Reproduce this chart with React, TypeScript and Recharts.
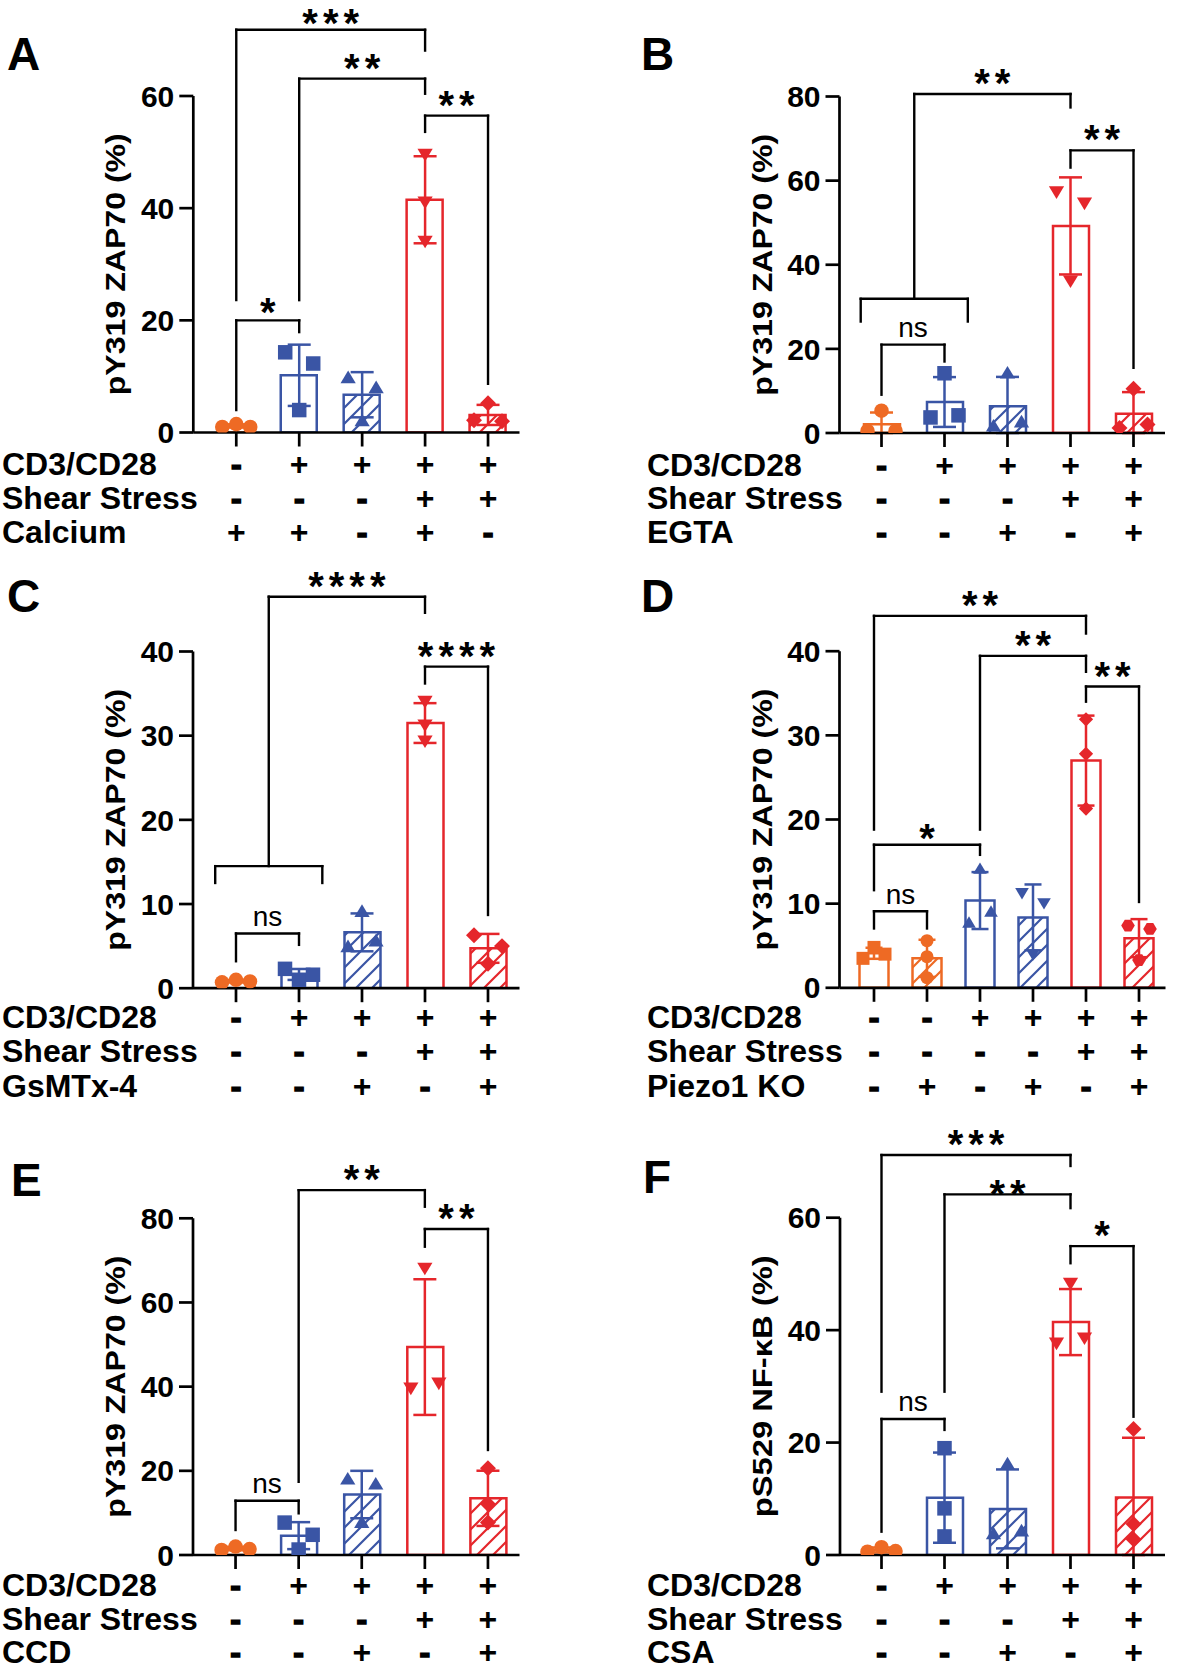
import React from 'react';
import { ComposedChart, Bar, Cell, Scatter, ErrorBar, XAxis, YAxis, ReferenceLine, ReferenceDot } from 'recharts';

const FONT = "'Liberation Sans', Arial, Helvetica, sans-serif";
const COLORS: Record<string, string> = { orange: '#EE6A24', blue: '#3A55A5', red: '#E5262B' };

type Br = { x1: number; x2: number; y: number; d1: number; d2: number; t: string; lift?: number };

// ---------------- Panel A ----------------
const catsA = ['A1', 'A2', 'A3', 'A4', 'A5'];
const pointsA = [[1.0, 1.5, 1.0], [14.3, 12.3, 4.0], [9.9, 8.1, 2.2], [49.5, 41.0, 34.0], [2.2, 5.2, 2.0]];
const colorsA = ['orange', 'blue', 'blue', 'red', 'red'];
const hatchA = [false, false, true, false, true];
const shapesA = ['circle', 'square', 'triUp', 'triDown', 'diamond'];
const yTicksA = [0, 20, 40, 60];
const rowLabelsA = ['CD3/CD28', 'Shear Stress', 'Calcium'];
const signsA = [['-', '+', '+', '+', '+'], ['-', '-', '-', '+', '+'], ['+', '+', '-', '+', '-']];
const bracketsA: Br[] = [
  { x1: 0, x2: 3, y: 71.8, d1: 23.6, d2: 68.1, t: '***', lift: 8 },
  { x1: 1, x2: 3, y: 63.1, d1: 23.6, d2: 60.4, t: '**' },
  { x1: 3, x2: 4, y: 56.5, d1: 53.6, d2: 8.7, t: '**' },
  { x1: 0, x2: 1, y: 20.0, d1: 4.0, d2: 17.9, t: '*', lift: 10 },
];

// ---------------- Panel B ----------------
const catsB = ['B1', 'B2', 'B3', 'B4', 'B5'];
const pointsB = [[0.5, 5.3, 0.5], [3.7, 14.2, 4.2], [1.8, 14.4, 2.8], [57.2, 54.5, 36.0], [1.2, 10.5, 2.0]];
const colorsB = ['orange', 'blue', 'blue', 'red', 'red'];
const hatchB = [false, false, true, false, true];
const shapesB = ['circle', 'square', 'triUp', 'triDown', 'diamond'];
const yTicksB = [0, 20, 40, 60, 80];
const rowLabelsB = ['CD3/CD28', 'Shear Stress', 'EGTA'];
const signsB = [['-', '+', '+', '+', '+'], ['-', '-', '-', '+', '+'], ['-', '-', '+', '-', '+']];
const bracketsB: Br[] = [
  { x1: 0.52, x2: 3, y: 80.6, d1: 31.9, d2: 77.4, t: '**' },
  { x1: -0.33, x2: 1.37, y: 31.9, d1: 26.5, d2: 26.5, t: '' },
  { x1: 3, x2: 4, y: 67.2, d1: 63.1, d2: 15.5, t: '**' },
  { x1: 0, x2: 1, y: 21.0, d1: 9.1, d2: 17.0, t: 'ns' },
];

// ---------------- Panel C ----------------
const catsC = ['C1', 'C2', 'C3', 'C4', 'C5'];
const pointsC = [[0.7, 1.0, 0.8], [2.3, 1.0, 1.6], [5.0, 9.2, 5.7], [34.0, 31.2, 29.3], [6.3, 5.0, 2.9]];
const colorsC = ['orange', 'blue', 'blue', 'red', 'red'];
const hatchC = [false, false, true, false, true];
const shapesC = ['circle', 'square', 'triUp', 'triDown', 'diamond'];
const yTicksC = [0, 10, 20, 30, 40];
const rowLabelsC = ['CD3/CD28', 'Shear Stress', 'GsMTx-4'];
const signsC = [['-', '+', '+', '+', '+'], ['-', '-', '-', '+', '+'], ['-', '-', '+', '-', '+']];
const bracketsC: Br[] = [
  { x1: 0.52, x2: 3, y: 46.5, d1: 14.5, d2: 44.6, t: '****' },
  { x1: -0.33, x2: 1.37, y: 14.5, d1: 12.5, d2: 12.5, t: '' },
  { x1: 3, x2: 4, y: 38.2, d1: 36.2, d2: 8.7, t: '****' },
  { x1: 0, x2: 1, y: 6.5, d1: 3.2, d2: 5.15, t: 'ns' },
];

// ---------------- Panel D ----------------
const catsD = ['D1', 'D2', 'D3', 'D4', 'D5', 'D6'];
const pointsD = [[3.5, 4.8, 4.0], [5.6, 3.7, 1.2], [7.8, 14.2, 9.1], [11.2, 10.0, 3.9], [31.9, 27.8, 21.3], [7.4, 7.0, 3.3]];
const colorsD = ['orange', 'orange', 'blue', 'blue', 'red', 'red'];
const hatchD = [false, true, false, true, false, true];
const shapesD = ['square', 'circle', 'triUp', 'triDown', 'diamond', 'hexagon'];
const yTicksD = [0, 10, 20, 30, 40];
const rowLabelsD = ['CD3/CD28', 'Shear Stress', 'Piezo1 KO'];
const signsD = [['-', '-', '+', '+', '+', '+'], ['-', '-', '-', '-', '+', '+'], ['-', '+', '-', '+', '-', '+']];
const bracketsD: Br[] = [
  { x1: 0, x2: 4, y: 44.2, d1: 18.8, d2: 42.1, t: '**' },
  { x1: 2, x2: 4, y: 39.45, d1: 18.8, d2: 37.55, t: '**' },
  { x1: 4, x2: 5, y: 35.8, d1: 34.0, d2: 10.2, t: '**' },
  { x1: 0, x2: 2, y: 17.0, d1: 11.6, d2: 15.8, t: '*', lift: 8 },
  { x1: 0, x2: 1, y: 9.1, d1: 7.05, d2: 7.05, t: 'ns' },
];

// ---------------- Panel E ----------------
const catsE = ['E1', 'E2', 'E3', 'E4', 'E5'];
const pointsE = [[1.2, 2.0, 1.4], [7.7, 4.8, 1.3], [18.2, 17.0, 7.9], [39.5, 68.0, 40.7], [20.6, 12.1, 7.7]];
const colorsE = ['orange', 'blue', 'blue', 'red', 'red'];
const hatchE = [false, false, true, false, true];
const shapesE = ['circle', 'square', 'triUp', 'triDown', 'diamond'];
const yTicksE = [0, 20, 40, 60, 80];
const rowLabelsE = ['CD3/CD28', 'Shear Stress', 'CCD'];
const signsE = [['-', '+', '+', '+', '+'], ['-', '-', '-', '+', '+'], ['-', '-', '+', '-', '+']];
const bracketsE: Br[] = [
  { x1: 1, x2: 3, y: 86.7, d1: 17.4, d2: 82.75, t: '**' },
  { x1: 3, x2: 4, y: 77.45, d1: 73.25, d2: 24.95, t: '**' },
  { x1: 0, x2: 1, y: 12.9, d1: 5.94, d2: 9.9, t: 'ns' },
];

// ---------------- Panel F ----------------
const catsF = ['F1', 'F2', 'F3', 'F4', 'F5'];
const pointsF = [[0.6, 1.4, 0.7], [19.0, 8.3, 3.3], [3.9, 16.3, 4.4], [37.6, 48.2, 38.5], [22.4, 5.5, 2.8]];
const colorsF = ['orange', 'blue', 'blue', 'red', 'red'];
const hatchF = [false, false, true, false, true];
const shapesF = ['circle', 'square', 'triUp', 'triDown', 'diamond'];
const yTicksF = [0, 20, 40, 60];
const rowLabelsF = ['CD3/CD28', 'Shear Stress', 'CSA'];
const signsF = [['-', '+', '+', '+', '+'], ['-', '-', '-', '+', '+'], ['-', '-', '+', '-', '+']];
const bracketsF: Br[] = [
  { x1: 0, x2: 3, y: 71.15, d1: 29.05, d2: 69.2, t: '***' },
  { x1: 1, x2: 3, y: 64.15, d1: 29.05, d2: 61.7, t: '**', lift: 1.5 },
  { x1: 3, x2: 4, y: 54.95, d1: 51.9, d2: 24.6, t: '*' },
  { x1: 0, x2: 1, y: 24.2, d1: 4.15, d2: 22.25, t: 'ns' },
];

// ---------------- helpers ----------------
const mean = (a: number[]) => a.reduce((s, v) => s + v, 0) / a.length;
const sd = (a: number[]) => {
  const m = mean(a);
  return Math.sqrt(a.reduce((s, v) => s + (v - m) * (v - m), 0) / (a.length - 1));
};

function jitterSlots(vals: number[], pxPerUnit: number, thr = 13): number[] {
  const idx = vals.map((_, i) => i).sort((a, b) => vals[a] - vals[b]);
  const clusters: number[][] = [];
  let cur: number[] = [];
  idx.forEach((i, k) => {
    if (k > 0 && (vals[i] - vals[idx[k - 1]]) * pxPerUnit >= thr) {
      clusters.push(cur);
      cur = [];
    }
    cur.push(i);
  });
  clusters.push(cur);
  const slots = new Array(vals.length).fill(0);
  clusters.forEach((c) => {
    const members = [...c].sort((a, b) => a - b);
    const k = members.length;
    const pattern = k === 1 ? [0] : k === 2 ? [-1, 1] : members.map((_, j) => j - (k - 1) / 2);
    members.forEach((m, j) => (slots[m] = pattern[j]));
  });
  return slots;
}

function Marker(props: any) {
  const { cx, cy, payload } = props;
  if (cx == null || cy == null || !payload) return <g />;
  const x = cx + payload.slot * payload.jit;
  const s = payload.mk;
  const h = s / 2;
  const c = COLORS[payload.color];
  switch (payload.shape) {
    case 'circle':
      return <circle cx={x} cy={cy} r={h} fill={c} />;
    case 'square':
      return <rect x={x - h} y={cy - h} width={s} height={s} fill={c} />;
    case 'triUp':
      return <polygon points={`${x},${cy - h * 0.9} ${x + h * 1.05},${cy + h * 0.85} ${x - h * 1.05},${cy + h * 0.85}`} fill={c} />;
    case 'triDown':
      return <polygon points={`${x},${cy + h * 0.9} ${x + h * 1.05},${cy - h * 0.85} ${x - h * 1.05},${cy - h * 0.85}`} fill={c} />;
    case 'diamond':
      return <polygon points={`${x},${cy - h * 1.1} ${x + h * 1.1},${cy} ${x},${cy + h * 1.1} ${x - h * 1.1},${cy}`} fill={c} />;
    case 'hexagon':
      return (
        <polygon
          points={`${x - h * 1.05},${cy} ${x - h * 0.5},${cy - h * 0.9} ${x + h * 0.5},${cy - h * 0.9} ${x + h * 1.05},${cy} ${x + h * 0.5},${cy + h * 0.9} ${x - h * 0.5},${cy + h * 0.9}`}
          fill={c}
        />
      );
    default:
      return <circle cx={x} cy={cy} r={h} fill={c} />;
  }
}

type Geom = {
  divLeft: number; divTop: number; divW: number; divH: number;
  plotLeft: number; plotTop: number; plotBottom: number; plotRight: number;
  padL: number; barSize: number; cap: number; jit: number; mk: number;
  tableOffs: number[]; rowX: number; letterX: number; letterY: number;
};

type Cfg = {
  letter: string; cats: string[]; points: number[][]; colors: string[]; hatch: boolean[]; shapes: string[];
  yMax: number; yTicks: number[]; rowLabels: string[]; signs: string[][]; brackets: Br[]; yLabel: string; geom: Geom;
};

const LEFT = { divLeft: 0, divW: 600, plotRight: 519.5, rowX: 2 };
const RIGHT = { divLeft: 600, divW: 580, rowX: 647 };

const panels: Cfg[] = [
  {
    letter: 'A', cats: catsA, points: pointsA, colors: colorsA, hatch: hatchA, shapes: shapesA, yMax: 60, yTicks: yTicksA,
    rowLabels: rowLabelsA, signs: signsA, brackets: bracketsA, yLabel: 'pY319 ZAP70 (%)',
    geom: { ...LEFT, divTop: 0, divH: 560, plotLeft: 193.3, plotTop: 96, plotBottom: 432.5, padL: 11.5, barSize: 36, cap: 11.5, jit: 14, mk: 14.5, tableOffs: [42.5, 76, 110], letterX: 7, letterY: 70 },
  },
  {
    letter: 'B', cats: catsB, points: pointsB, colors: colorsB, hatch: hatchB, shapes: shapesB, yMax: 80, yTicks: yTicksB,
    rowLabels: rowLabelsB, signs: signsB, brackets: bracketsB, yLabel: 'pY319 ZAP70 (%)',
    geom: { ...RIGHT, divTop: 0, divH: 560, plotLeft: 839.5, plotTop: 96.5, plotBottom: 433, plotRight: 1165, padL: 10.5, barSize: 36, cap: 11.5, jit: 14, mk: 14.5, tableOffs: [42.5, 76, 110], letterX: 641, letterY: 70 },
  },
  {
    letter: 'C', cats: catsC, points: pointsC, colors: colorsC, hatch: hatchC, shapes: shapesC, yMax: 40, yTicks: yTicksC,
    rowLabels: rowLabelsC, signs: signsC, brackets: bracketsC, yLabel: 'pY319 ZAP70 (%)',
    geom: { ...LEFT, divTop: 560, divH: 560, plotLeft: 193, plotTop: 651.5, plotBottom: 988.2, padL: 11.5, barSize: 36, cap: 11.5, jit: 14, mk: 14.5, tableOffs: [40, 74, 109], letterX: 7, letterY: 612 },
  },
  {
    letter: 'D', cats: catsD, points: pointsD, colors: colorsD, hatch: hatchD, shapes: shapesD, yMax: 40, yTicks: yTicksD,
    rowLabels: rowLabelsD, signs: signsD, brackets: bracketsD, yLabel: 'pY319 ZAP70 (%)',
    geom: { ...RIGHT, divTop: 560, divH: 560, plotLeft: 839.5, plotTop: 651.2, plotBottom: 987.8, plotRight: 1165.5, padL: 8, barSize: 29, cap: 8.5, jit: 11, mk: 13, tableOffs: [40, 74, 109], letterX: 641, letterY: 612 },
  },
  {
    letter: 'E', cats: catsE, points: pointsE, colors: colorsE, hatch: hatchE, shapes: shapesE, yMax: 80, yTicks: yTicksE,
    rowLabels: rowLabelsE, signs: signsE, brackets: bracketsE, yLabel: 'pY319 ZAP70 (%)',
    geom: { ...LEFT, divTop: 1120, divH: 550, plotLeft: 193, plotTop: 1218.3, plotBottom: 1555, padL: 11, barSize: 36, cap: 11.5, jit: 14, mk: 14.5, tableOffs: [41, 74.5, 108], letterX: 11, letterY: 1196 },
  },
  {
    letter: 'F', cats: catsF, points: pointsF, colors: colorsF, hatch: hatchF, shapes: shapesF, yMax: 60, yTicks: yTicksF,
    rowLabels: rowLabelsF, signs: signsF, brackets: bracketsF, yLabel: 'pS529 NF-\u03BAB (%)',
    geom: { ...RIGHT, divTop: 1120, divH: 550, plotLeft: 840, plotTop: 1217.7, plotBottom: 1555, plotRight: 1165, padL: 10, barSize: 36, cap: 11.5, jit: 14, mk: 14.5, tableOffs: [41, 74.5, 108], letterX: 643, letterY: 1193 },
  },
];

const AST_FONT = 40;
const AST_LS = 5;

function Panel({ cfg }: { cfg: Cfg }) {
  const g = cfg.geom;
  const n = cfg.cats.length;
  const pxPerUnit = (g.plotBottom - g.plotTop) / cfg.yMax;
  const barData = cfg.cats.map((c, i) => ({ name: c, mean: mean(cfg.points[i]) }));
  const pts: any[] = [];
  cfg.points.forEach((vals, i) => {
    const slots = jitterSlots(vals, pxPerUnit);
    vals.forEach((v, j) =>
      pts.push({ xi: i, v, slot: slots[j], color: cfg.colors[i], shape: cfg.shapes[i], jit: g.jit, mk: g.mk })
    );
  });
  const colorGroups = Array.from(new Set(cfg.colors));
  const errGroups = colorGroups.map((col) => ({
    col,
    data: cfg.cats
      .map((_, i) => i)
      .filter((i) => cfg.colors[i] === col)
      .map((i) => {
        const m = mean(cfg.points[i]);
        const s = sd(cfg.points[i]);
        return { xi: i, v: m, err: [Math.min(s, m), s] };
      }),
  }));

  const tableOffs = g.tableOffs;
  const SignTick = (p: any) => {
    const i = cfg.cats.indexOf(p.payload?.value);
    if (i < 0) return <g />;
    return (
      <g>
        {cfg.signs.map((row, r) => (
          <text
            key={r}
            x={p.x}
            y={p.y - 14 + tableOffs[r]}
            textAnchor="middle"
            fontSize={32}
            fontWeight={700}
            fontFamily={FONT}
            fill="#000"
            stroke={row[i] === '-' ? '#000' : 'none'}
            strokeWidth={row[i] === '-' ? 1.6 : 0}
          >
            {row[i]}
          </text>
        ))}
      </g>
    );
  };

  const lineProps = { stroke: '#000', strokeWidth: 2.4, strokeLinecap: 'square' as const, ifOverflow: 'visible' as const, xAxisId: 'num' };

  return (
    <div style={{ position: 'absolute', left: g.divLeft, top: g.divTop, width: g.divW, height: g.divH }}>
      <ComposedChart
        width={g.divW}
        height={g.divH}
        data={barData}
        margin={{ top: g.plotTop - g.divTop, right: g.divLeft + g.divW - g.plotRight, bottom: 0, left: 0 }}
      >
        <XAxis
          xAxisId="cat"
          dataKey="name"
          type="category"
          interval={0}
          height={g.divTop + g.divH - g.plotBottom}
          padding={{ left: g.padL, right: 0 }}
          axisLine={{ stroke: '#000', strokeWidth: 2.7 }}
          tickLine={{ stroke: '#000', strokeWidth: 2.7 }}
          tickSize={14}
          tickMargin={0}
          tick={SignTick}
        />
        <XAxis
          xAxisId="num"
          type="number"
          dataKey="xi"
          domain={[-0.5, n - 0.5]}
          ticks={cfg.cats.map((_, i) => i)}
          hide
          padding={{ left: g.padL, right: 0 }}
          allowDataOverflow
        />
        <YAxis
          type="number"
          domain={[0, cfg.yMax]}
          ticks={cfg.yTicks}
          allowDataOverflow
          width={g.plotLeft - g.divLeft}
          axisLine={{ stroke: '#000', strokeWidth: 2.7 }}
          tickLine={{ stroke: '#000', strokeWidth: 2.7 }}
          tickSize={14}
          tickMargin={5}
          tick={{ fontSize: 30, fontWeight: 700, fill: '#000', fontFamily: FONT }}
        />
        <Bar xAxisId="cat" dataKey="mean" barSize={g.barSize} isAnimationActive={false} strokeWidth={2.5}>
          {barData.map((d, i) => (
            <Cell
              key={d.name}
              fill={cfg.hatch[i] ? `url(#hatch-${cfg.colors[i]})` : '#ffffff'}
              stroke={COLORS[cfg.colors[i]]}
            />
          ))}
        </Bar>
        {errGroups.map((eg) => (
          <Scatter
            key={'err-' + eg.col}
            xAxisId="num"
            data={eg.data}
            dataKey="v"
            isAnimationActive={false}
            shape={() => <g />}
          >
            <ErrorBar
              dataKey="err"
              direction="y"
              width={g.cap}
              stroke={COLORS[eg.col]}
              strokeWidth={2.5}
              isAnimationActive={false}
            />
          </Scatter>
        ))}
        <Scatter xAxisId="num" data={pts} dataKey="v" isAnimationActive={false} shape={Marker} />
        {cfg.brackets.map((b, k) => (
          <ReferenceLine key={'h' + k} {...lineProps} segment={[{ x: b.x1, y: b.y }, { x: b.x2, y: b.y }]} />
        ))}
        {cfg.brackets.map((b, k) => (
          <ReferenceLine key={'l' + k} {...lineProps} segment={[{ x: b.x1, y: b.y }, { x: b.x1, y: b.d1 }]} />
        ))}
        {cfg.brackets.map((b, k) => (
          <ReferenceLine key={'r' + k} {...lineProps} segment={[{ x: b.x2, y: b.y }, { x: b.x2, y: b.d2 }]} />
        ))}
        {cfg.brackets
          .filter((b) => b.t !== '')
          .map((b, k) => (
            <ReferenceDot
              key={'t' + k}
              xAxisId="num"
              x={(b.x1 + b.x2) / 2}
              y={b.y}
              ifOverflow="visible"
              shape={(p: any) =>
                b.t === 'ns' ? (
                  <text x={p.cx} y={p.cy - 7.5} textAnchor="middle" fontSize={28} fontFamily={FONT} fill="#000">
                    ns
                  </text>
                ) : (
                  <text
                    x={p.cx + AST_LS / 2}
                    y={p.cy + AST_FONT * 0.39 - (b.lift ?? 12.5)}
                    textAnchor="middle"
                    fontSize={AST_FONT}
                    fontWeight={700}
                    letterSpacing={AST_LS}
                    fontFamily={FONT}
                    fill="#000"
                  >
                    {b.t}
                  </text>
                )
              }
            />
          ))}
      </ComposedChart>
    </div>
  );
}

function Overlay() {
  return (
    <svg
      width={1180}
      height={1670}
      style={{ position: 'absolute', left: 0, top: 0, pointerEvents: 'none' }}
    >
      <defs>
        {Object.keys(COLORS).map((k) => (
          <pattern key={k} id={`hatch-${k}`} patternUnits="userSpaceOnUse" width={16} height={16}>
            <rect width={16} height={16} fill="#ffffff" />
            <path d="M-4,4 L4,-4 M0,16 L16,0 M12,20 L20,12" stroke={COLORS[k]} strokeWidth={2.2} />
          </pattern>
        ))}
      </defs>
      {panels.map((p) => {
        const g = p.geom;
        const cy = (g.plotTop + g.plotBottom) / 2;
        const lx = g.plotLeft - 68;
        return (
          <g key={p.letter} fontFamily={FONT} fill="#000">
            <text x={g.letterX} y={g.letterY} fontSize={46} fontWeight={700}>
              {p.letter}
            </text>
            <text
              x={lx}
              y={cy}
              transform={`rotate(-90, ${lx}, ${cy})`}
              textAnchor="middle"
              fontSize={28}
              fontWeight={700}
              textLength={262}
              lengthAdjust="spacingAndGlyphs"
            >
              {p.yLabel}
            </text>
            {p.rowLabels.map((r, i) => (
              <text key={r} x={g.rowX} y={g.plotBottom + g.tableOffs[i]} fontSize={32} fontWeight={700}>
                {r}
              </text>
            ))}
          </g>
        );
      })}
    </svg>
  );
}

export default function App() {
  return (
    <div style={{ position: 'absolute', left: 0, top: 0, width: 1180, height: 1670, background: '#ffffff', fontFamily: FONT }}>
      {panels.map((p) => (
        <Panel key={p.letter} cfg={p} />
      ))}
      <Overlay />
    </div>
  );
}
